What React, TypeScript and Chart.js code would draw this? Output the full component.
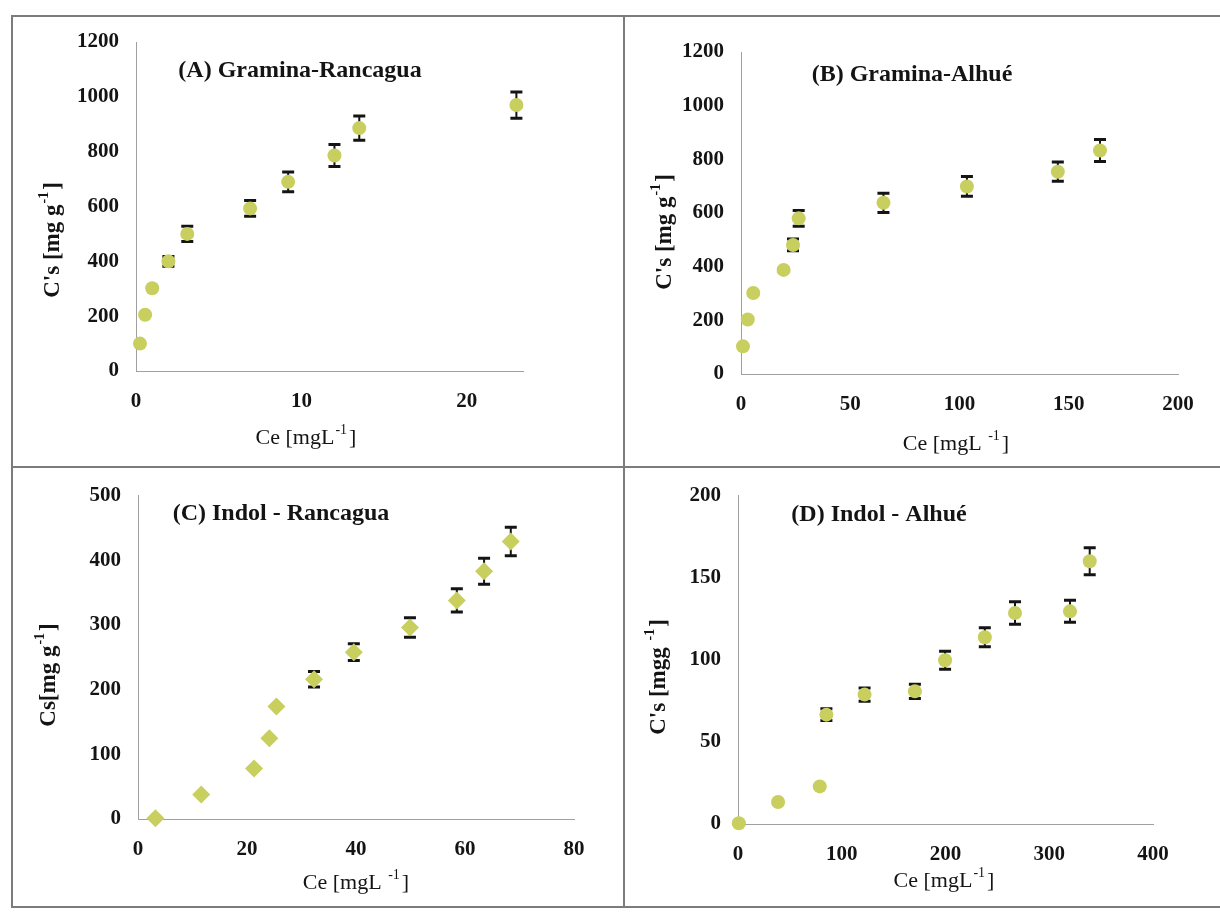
import React, { useEffect, useRef } from 'react';
import { Chart, registerables } from 'chart.js';

Chart.register(...registerables);

// ---------- DATA ----------
// (A) Gramina-Rancagua
const ceA = [0.24, 0.55, 0.98, 1.96, 3.1, 6.9, 9.2, 12.0, 13.5, 23.0];
const csA = [100, 205, 302, 400, 500, 593, 690, 786, 886, 970];
const errA = [3, 3, 3, 18, 28, 29, 36, 40, 44, 48];
const xTicksA = [0, 10, 20];
const yTicksA = [0, 200, 400, 600, 800, 1000, 1200];

// (B) Gramina-Alhué
const ceB = [0.9, 3.1, 5.6, 19.5, 23.8, 26.4, 65.2, 103.4, 145.0, 164.3];
const csB = [103, 203, 302, 388, 481, 580, 638, 699, 754, 833];
const errB = [3, 3, 3, 5, 22, 29, 36, 37, 36, 41];
const xTicksB = [0, 50, 100, 150, 200];
const yTicksB = [0, 200, 400, 600, 800, 1000, 1200];

// (C) Indol - Rancagua
const ceC = [3.2, 11.6, 21.3, 24.1, 25.4, 32.3, 39.6, 49.9, 58.5, 63.5, 68.4];
const csC = [1, 38, 78, 125, 174, 216, 258, 296, 338, 383, 429];
const errC = [1, 1, 1, 1, 1, 12, 13, 15, 18, 20, 22];
const xTicksC = [0, 20, 40, 60, 80];
const yTicksC = [0, 100, 200, 300, 400, 500];

// (D) Indol - Alhué
const ceD = [0.8, 38.6, 78.8, 85.2, 122, 170.5, 199.6, 237.9, 267, 320, 339];
const csD = [0.5, 13.4, 22.9, 66.6, 78.8, 80.8, 99.7, 113.7, 128.5, 129.5, 160];
const errD = [0.5, 0.5, 0.5, 3.6, 4.0, 4.3, 5.5, 5.8, 6.9, 6.7, 8.2];
const xTicksD = [0, 100, 200, 300, 400];
const yTicksD = [0, 50, 100, 150, 200];

// Texts
const titleA = '(A) Gramina-Rancagua';
const titleB = '(B) Gramina-Alhué';
const titleC = '(C) Indol - Rancagua';
const titleD = '(D) Indol - Alhué';
const xTitleA = ['Ce [mgL', '-1', ']'];
const yTitleA = ["C's [mg g", '-1', ']'];
const xTitleB = ['Ce [mgL ', '-1', ']'];
const yTitleB = ["C's [mg g", '-1', ']'];
const xTitleC = ['Ce [mgL ', '-1', ']'];
const yTitleC = ['Cs[mg g', '-1', ']'];
const xTitleD = ['Ce [mgL', '-1', ']'];
const yTitleD = ["C's [mgg ", '-1', ']'];

// ---------- STYLE / LAYOUT ----------
const FONT = "'Liberation Serif', 'Times New Roman', serif";
const MARKER = '#c8cf5e';
const INK = '#141414';

type Spec = {
  xs: number[]; ys: number[]; err: number[];
  xTicks: number[]; yTicks: number[];
  xMax: number; yMax: number;
  title: string; xTitle: string[]; yTitle: string[];
  left: number; top: number; w: number; h: number;
  area: { l: number; t: number; r: number; b: number };
  titlePos: [number, number]; xTitlePos: [number, number]; yTitlePos: [number, number];
  pointStyle: string; radius: number;
};

const specs: Spec[] = [
  {
    xs: ceA, ys: csA, err: errA, xTicks: xTicksA, yTicks: yTicksA, xMax: 23.4, yMax: 1200,
    title: titleA, xTitle: xTitleA, yTitle: yTitleA,
    left: 0, top: 0, w: 620, h: 466,
    area: { l: 136, t: 42, r: 523, b: 371 },
    titlePos: [300, 71], xTitlePos: [306, 438], yTitlePos: [53, 240],
    pointStyle: 'circle', radius: 7,
  },
  {
    xs: ceB, ys: csB, err: errB, xTicks: xTicksB, yTicks: yTicksB, xMax: 200, yMax: 1200,
    title: titleB, xTitle: xTitleB, yTitle: yTitleB,
    left: 620, top: 0, w: 600, h: 466,
    area: { l: 741, t: 52, r: 1178, b: 374 },
    titlePos: [912, 75], xTitlePos: [956, 444], yTitlePos: [665, 232],
    pointStyle: 'circle', radius: 7,
  },
  {
    xs: ceC, ys: csC, err: errC, xTicks: xTicksC, yTicks: yTicksC, xMax: 80, yMax: 500,
    title: titleC, xTitle: xTitleC, yTitle: yTitleC,
    left: 0, top: 466, w: 620, h: 447,
    area: { l: 138, t: 486, r: 574, b: 819 },
    titlePos: [281, 514], xTitlePos: [356, 883], yTitlePos: [49, 675],
    pointStyle: 'rectRot', radius: 9,
  },
  {
    xs: ceD, ys: csD, err: errD, xTicks: xTicksD, yTicks: yTicksD, xMax: 400, yMax: 200,
    title: titleD, xTitle: xTitleD, yTitle: yTitleD,
    left: 620, top: 466, w: 600, h: 447,
    area: { l: 738, t: 494, r: 1153, b: 824 },
    titlePos: [879, 515], xTitlePos: [944, 881], yTitlePos: [659, 677],
    pointStyle: 'circle', radius: 7,
  },
];

function drawRich(ctx: CanvasRenderingContext2D, parts: string[], cx: number, cy: number, size: number, weight: string) {
  const main = `${weight} ${size}px ${FONT}`;
  const sup = `${weight} ${Math.round(size * 0.62)}px ${FONT}`;
  ctx.font = main;
  const w0 = ctx.measureText(parts[0]).width;
  const w2 = ctx.measureText(parts[2]).width;
  ctx.font = sup;
  const w1 = ctx.measureText(parts[1]).width;
  let x = cx - (w0 + w1 + w2 + 3) / 2;
  ctx.textBaseline = 'middle';
  ctx.textAlign = 'left';
  ctx.fillStyle = INK;
  ctx.font = main;
  ctx.fillText(parts[0], x, cy);
  x += w0 + 1;
  ctx.font = sup;
  ctx.fillText(parts[1], x, cy - size * 0.36);
  x += w1 + 2;
  ctx.font = main;
  ctx.fillText(parts[2], x, cy);
}

function Panel({ spec }: { spec: Spec }) {
  const ref = useRef<HTMLCanvasElement>(null);
  useEffect(() => {
    const s = spec;
    const ox = s.left;
    const oy = s.top;
    const plugin = {
      id: 'extras',
      beforeDatasetsDraw(chart: any) {
        const ctx = chart.ctx as CanvasRenderingContext2D;
        const xsc = chart.scales.x;
        const ysc = chart.scales.y;
        ctx.save();
        ctx.strokeStyle = INK;
        s.xs.forEach((xv, i) => {
          const e = s.err[i];
          const px = xsc.getPixelForValue(xv);
          const pt = ysc.getPixelForValue(s.ys[i] + e);
          const pb = ysc.getPixelForValue(s.ys[i] - e);
          ctx.lineWidth = 2;
          ctx.beginPath();
          ctx.moveTo(px, pt);
          ctx.lineTo(px, pb);
          ctx.stroke();
          ctx.lineWidth = 3;
          ctx.beginPath();
          ctx.moveTo(px - 6, pt);
          ctx.lineTo(px + 6, pt);
          ctx.moveTo(px - 6, pb);
          ctx.lineTo(px + 6, pb);
          ctx.stroke();
        });
        ctx.restore();
      },
      afterDraw(chart: any) {
        const ctx = chart.ctx as CanvasRenderingContext2D;
        ctx.save();
        ctx.fillStyle = INK;
        ctx.font = `bold 24px ${FONT}`;
        ctx.textAlign = 'center';
        ctx.textBaseline = 'middle';
        ctx.fillText(s.title, s.titlePos[0] - ox, s.titlePos[1] - oy);
        drawRich(ctx, s.xTitle, s.xTitlePos[0] - ox, s.xTitlePos[1] - oy, 22, 'normal');
        ctx.translate(s.yTitlePos[0] - ox, s.yTitlePos[1] - oy);
        ctx.rotate(-Math.PI / 2);
        drawRich(ctx, s.yTitle, 0, 0, 23, 'bold');
        ctx.restore();
      },
    };
    const tickFont = { family: FONT, size: 21, weight: 'bold' as const, lineHeight: 1.2 };
    const yW = s.area.l - ox;
    const xH = oy + s.h - s.area.b;
    const chart = new Chart(ref.current as HTMLCanvasElement, {
      type: 'scatter',
      data: {
        datasets: [
          {
            data: s.xs.map((x, i) => ({ x, y: s.ys[i] })),
            pointStyle: s.pointStyle as any,
            pointRadius: s.radius,
            pointHoverRadius: s.radius,
            backgroundColor: MARKER,
            borderColor: MARKER,
            borderWidth: 0,
            showLine: false,
            clip: false as any,
          },
        ],
      },
      options: {
        responsive: false,
        animation: false,
        events: [],
        layout: {
          padding: { left: 0, top: s.area.t - oy, right: ox + s.w - s.area.r, bottom: 0 },
        },
        plugins: { legend: { display: false }, tooltip: { enabled: false } },
        scales: {
          x: {
            type: 'linear',
            min: 0,
            max: s.xMax,
            grid: { display: false, drawTicks: false },
            border: { display: true, color: '#a0a0a0', width: 1, dash: [3, 2] },
            ticks: {
              font: tickFont, color: INK, padding: 18, maxRotation: 0, autoSkip: false,
              callback: (v: any) => String(v),
            },
            afterBuildTicks: (sc: any) => { sc.ticks = s.xTicks.map((v) => ({ value: v })); },
            afterFit: (sc: any) => { sc.height = xH; },
          },
          y: {
            type: 'linear',
            min: 0,
            max: s.yMax,
            grid: { display: false, drawTicks: false },
            border: { display: true, color: '#a0a0a0', width: 1, dash: [3, 2] },
            ticks: {
              font: tickFont, color: INK, padding: 17, autoSkip: false,
              callback: (v: any) => String(v),
            },
            afterBuildTicks: (sc: any) => { sc.ticks = s.yTicks.map((v) => ({ value: v })); },
            afterFit: (sc: any) => { sc.width = yW; },
          },
        },
      },
      plugins: [plugin],
    });
    return () => chart.destroy();
  }, [spec]);
  return (
    <canvas
      ref={ref}
      width={spec.w}
      height={spec.h}
      style={{ position: 'absolute', left: spec.left, top: spec.top, width: spec.w, height: spec.h }}
    />
  );
}

const lineColor = '#7c7c7c';

export default function App() {
  const line = (l: number, t: number, w: number, h: number) => (
    <div style={{ position: 'absolute', left: l, top: t, width: w, height: h, background: lineColor }} />
  );
  return (
    <div style={{ position: 'absolute', left: 0, top: 0, width: 1220, height: 913, background: '#fff', overflow: 'hidden' }}>
      {specs.map((s, i) => (
        <Panel key={i} spec={s} />
      ))}
      {line(11, 15, 1209, 2)}
      {line(11, 15, 2, 893)}
      {line(623, 15, 2, 893)}
      {line(11, 466, 1209, 2)}
      {line(11, 906, 1209, 2)}
    </div>
  );
}
